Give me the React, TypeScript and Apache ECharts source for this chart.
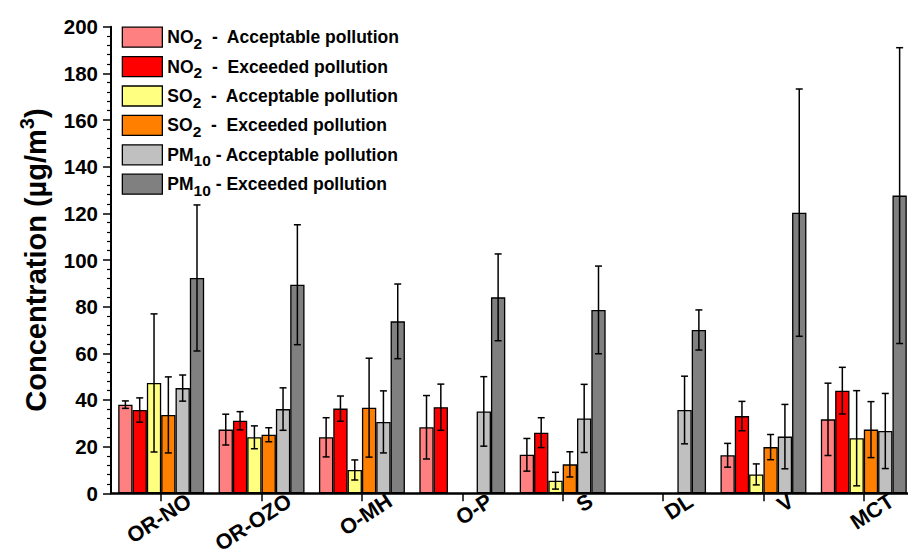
import React, { useEffect, useRef } from 'react';
import * as echarts from 'echarts';

const categories = ['OR-NO', 'OR-OZO', 'O-MH', 'O-P', 'S', 'DL', 'V', 'MCT'];

const no2Acc = [38, 27.3, 24, 28.3, 16.5, null, 16.3, 31.7];
const no2AccErr = [1.6, 6.6, 8.4, 13.6, 7, null, 5.1, 15.5];
const no2Exc = [35.7, 31.1, 36.3, 36.9, 26, null, 33.1, 44];
const no2ExcErr = [5.2, 3.9, 5.4, 9.9, 6.4, null, 6.3, 10];
const so2Acc = [47.3, 24, 10, null, 5.4, null, 8.1, 23.6];
const so2AccErr = [29.6, 4.9, 4.3, null, 3.6, null, 4.5, 20.4];
const so2Exc = [33.6, 25.1, 36.7, null, 12.4, null, 19.8, 27.3];
const so2ExcErr = [16.3, 3, 21.2, null, 5.4, null, 5.4, 12];
const pm10Acc = [45.1, 36.1, 30.6, 35.1, 32.1, 35.7, 24.3, 26.7];
const pm10AccErr = [5.6, 9.1, 13.3, 14.9, 14.6, 14.5, 13.8, 16.1];
const pm10Exc = [92.3, 89.4, 73.7, 84, 78.6, 70, 120.3, 127.6];
const pm10ExcErr = [31.3, 25.7, 16, 18.6, 18.8, 8.6, 53, 63.4];

const yTicks = [0, 20, 40, 60, 80, 100, 120, 140, 160, 180, 200];

const seriesDefs = [
  { name: 'NO2 - Acceptable pollution', label: '{b|NO}{s|2}{b|  -  Acceptable pollution}', color: '#FF8080', values: no2Acc, errs: no2AccErr },
  { name: 'NO2 - Exceeded pollution', label: '{b|NO}{s|2}{b|  -  Exceeded pollution}', color: '#FF0000', values: no2Exc, errs: no2ExcErr },
  { name: 'SO2 - Acceptable pollution', label: '{b|SO}{s|2}{b|  -  Acceptable pollution}', color: '#FFFF80', values: so2Acc, errs: so2AccErr },
  { name: 'SO2 - Exceeded pollution', label: '{b|SO}{s|2}{b|  -  Exceeded pollution}', color: '#FF8000', values: so2Exc, errs: so2ExcErr },
  { name: 'PM10 - Acceptable pollution', label: '{b|PM}{s|10}{b| - Acceptable pollution}', color: '#C0C0C0', values: pm10Acc, errs: pm10AccErr },
  { name: 'PM10 - Exceeded pollution', label: '{b|PM}{s|10}{b| - Exceeded pollution}', color: '#808080', values: pm10Exc, errs: pm10ExcErr },
];

const FONT = '"Liberation Sans", Arial, Helvetica, sans-serif';
const BAR_FRAC = 0.1427;

export default function App() {
  const ref = useRef<HTMLDivElement>(null);
  useEffect(() => {
    const chart = echarts.init(ref.current as HTMLDivElement, null, { renderer: 'svg' });
    const labelMap: Record<string, string> = {};
    seriesDefs.forEach((d) => (labelMap[d.name] = d.label));

    const barSeries = seriesDefs.map((d) => ({
      type: 'bar',
      name: d.name,
      data: d.values.map((v) => (v == null ? '-' : v)),
      barWidth: (BAR_FRAC * 100).toFixed(2) + '%',
      barGap: '0%',
      itemStyle: { color: d.color, borderColor: '#000', borderWidth: 1.3 },
      z: 2,
    }));

    const errSeries = seriesDefs.map((d, k) => {
      const items: number[][] = [];
      d.values.forEach((v, i) => {
        const e = d.errs[i];
        if (v != null && e != null) items.push([i, v, e]);
      });
      return {
        type: 'custom',
        name: d.name + ' error',
        data: items,
        encode: { x: 0, y: 1 },
        z: 5,
        renderItem: (params: any, api: any) => {
          const ci = api.value(0);
          const v = api.value(1);
          const e = api.value(2);
          const band = api.size([1, 0])[0];
          const off = (k - 2.5) * band * BAR_FRAC;
          const top = api.coord([ci, v + e]);
          const bot = api.coord([ci, v - e]);
          const x = top[0] + off;
          const cap = 3.5;
          const st = { stroke: '#000', lineWidth: 1.5 };
          return {
            type: 'group',
            children: [
              { type: 'line', shape: { x1: x, y1: top[1], x2: x, y2: bot[1] }, style: st },
              { type: 'line', shape: { x1: x - cap, y1: top[1], x2: x + cap, y2: top[1] }, style: st },
              { type: 'line', shape: { x1: x - cap, y1: bot[1], x2: x + cap, y2: bot[1] }, style: st },
            ],
          };
        },
      };
    });

    chart.setOption({
      animation: false,
      backgroundColor: '#fff',
      grid: { left: 111, top: 26.7, width: 803, height: 466.6, containLabel: false, outerBoundsMode: 'none' },
      legend: {
        data: seriesDefs.map((d) => d.name),
        orient: 'vertical',
        left: 121.7,
        top: 23.2,
        padding: 0,
        itemWidth: 40,
        itemHeight: 20,
        itemGap: 1.4,
        icon: 'rect',
        itemStyle: { borderColor: '#000', borderWidth: 1.3 },
        formatter: (n: string) => labelMap[n],
        textStyle: {
          rich: {
            b: { fontSize: 17.5, fontWeight: 'bold', fontFamily: FONT, color: '#000', lineHeight: 20 },
            s: { fontSize: 15.5, fontWeight: 'bold', fontFamily: FONT, color: '#000', lineHeight: 12, padding: [12, 0, 0, 0] },
          },
        },
      },
      xAxis: {
        type: 'category',
        data: categories,
        axisLine: { show: true, lineStyle: { color: '#000', width: 2.5 } },
        axisTick: { show: true, alignWithLabel: true, length: 8, lineStyle: { color: '#000', width: 1.5 } },
        axisLabel: {
          interval: 0,
          rotate: 33,
          align: 'left',
          margin: 24,
          formatter: (v: string) => `{a|${v}}`,
          rich: {
            a: { width: 33.4, align: 'right', fontSize: 21.5, fontWeight: 'bold', fontFamily: FONT, color: '#000', lineHeight: 16 },
          },
        },
        splitLine: { show: false },
      },
      yAxis: {
        type: 'value',
        min: yTicks[0],
        max: yTicks[yTicks.length - 1],
        interval: 20,
        name: '{t|Concentration (µg/m}{sup|3}{t|)}',
        nameLocation: 'middle',
        nameRotate: 90,
        nameGap: 56,
        nameTextStyle: {
          rich: {
            t: { fontSize: 29, fontWeight: 'bold', fontFamily: FONT, color: '#000' },
            sup: { fontSize: 20, fontWeight: 'bold', fontFamily: FONT, color: '#000', padding: [0, 0, 18, 0] },
          },
        },
        axisLine: { show: true, lineStyle: { color: '#000', width: 2 } },
        axisTick: { show: true, length: 8, lineStyle: { color: '#000', width: 1.5 } },
        minorTick: { show: true, splitNumber: 5, length: 4, lineStyle: { color: '#000', width: 1.2 } },
        splitLine: { show: false },
        axisLabel: { fontSize: 20.5, fontWeight: 'bold', fontFamily: FONT, color: '#000', margin: 13 },
      },
      series: [...barSeries, ...errSeries],
    });
    return () => chart.dispose();
  }, []);
  return <div ref={ref} style={{ width: 908, height: 554, position: 'absolute', left: 0, top: 0 }} />;
}
